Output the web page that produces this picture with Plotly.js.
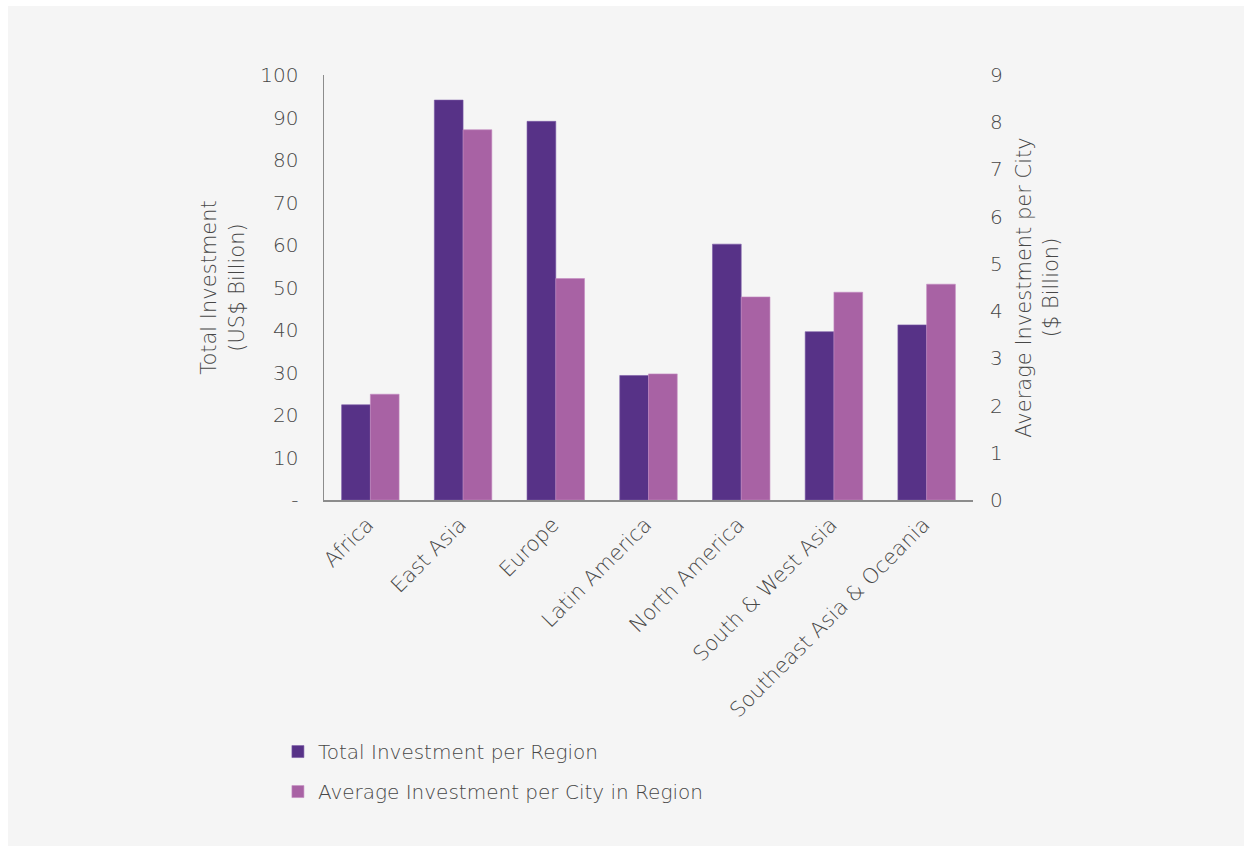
<!DOCTYPE html>
<html>
<head>
<meta charset="utf-8">
<script src="https://cdn.plot.ly/plotly-3.0.1.min.js"></script>
<style>
  html, body { margin: 0; padding: 0; background: #ffffff; }
  #chart { position: absolute; left: 8px; top: 6px; width: 1236px; height: 840px; }
</style>
</head>
<body>
<div id="chart"></div>
<script>
const regions = ["Africa", "East Asia", "Europe", "Latin America", "North America", "South & West Asia", "Southeast Asia & Oceania"];
const totalInvestment = [22.4, 94.1, 89.1, 29.3, 60.2, 39.6, 41.2];
const avgInvestmentPerCity = [2.24, 7.84, 4.69, 2.67, 4.30, 4.40, 4.57];
const leftTickVals = [0, 10, 20, 30, 40, 50, 60, 70, 80, 90, 100];
const leftTickText = ["-", "10", "20", "30", "40", "50", "60", "70", "80", "90", "100"];
const rightTickVals = [0, 1, 2, 3, 4, 5, 6, 7, 8, 9];
const seriesNames = ["Total Investment per Region", "Average Investment per City in Region"];

const fontFam = "DejaVu Sans, sans-serif";
const txtColor = "#474747";
const fw = 300;

const traces = [
  {
    type: "bar", x: regions, y: totalInvestment, name: seriesNames[0],
    marker: { color: "#573287", line: { color: "#7a5aa6", width: 0.6 } },
    offsetgroup: "a", yaxis: "y", legendgroup: "a", hoverinfo: "x+y"
  },
  {
    type: "bar", x: regions, y: avgInvestmentPerCity, name: seriesNames[1],
    marker: { color: "#a862a4", line: { color: "#c58cc1", width: 0.6 } },
    offsetgroup: "b", yaxis: "y2", legendgroup: "b", hoverinfo: "x+y"
  }
];

const layout = {
  width: 1236, height: 840,
  paper_bgcolor: "#f5f5f5", plot_bgcolor: "#f5f5f5",
  font: { family: fontFam, color: txtColor, size: 20, weight: fw },
  margin: { l: 316, r: 271, t: 69, b: 346 },
  barmode: "group", bargap: 0.38, bargroupgap: 0,
  showlegend: true,
  legend: {
    orientation: "v",
    x: -0.071, xanchor: "left", y: -0.546, yanchor: "top",
    font: { family: fontFam, size: 20, color: txtColor, weight: fw },
    tracegroupgap: 11, bgcolor: "rgba(0,0,0,0)"
  },
  xaxis: {
    type: "category", tickangle: -45, showgrid: false, zeroline: false,
    showline: true, linecolor: "#8c8c8c", linewidth: 2, ticks: "",
    ticklabelshift: -3, ticklabelstandoff: 2,
    tickfont: { family: fontFam, size: 21, color: txtColor, weight: fw }
  },
  yaxis: {
    range: [0, 100], tickvals: leftTickVals, ticktext: leftTickText,
    showgrid: false, zeroline: false, showline: true, linecolor: "#8c8c8c", linewidth: 1.5,
    ticks: "", ticklabelstandoff: 20,
    tickfont: { family: fontFam, size: 20, color: txtColor, weight: fw },
    title: { text: "Total Investment<br>(US$ Billion)", font: { family: fontFam, size: 21, color: txtColor, weight: fw }, standoff: 10 }
  },
  yaxis2: {
    range: [0, 9], tickvals: rightTickVals, overlaying: "y", side: "right",
    showgrid: false, zeroline: false, showline: false, ticks: "", ticklabelstandoff: 16,
    tickfont: { family: fontFam, size: 20, color: txtColor, weight: fw },
    title: { text: "Average Investment per City<br>($ Billion)", font: { family: fontFam, size: 21, color: txtColor, weight: fw }, standoff: 14 }
  }
};

Plotly.newPlot("chart", traces, layout, { displayModeBar: false, staticPlot: true });
</script>
</body>
</html>
